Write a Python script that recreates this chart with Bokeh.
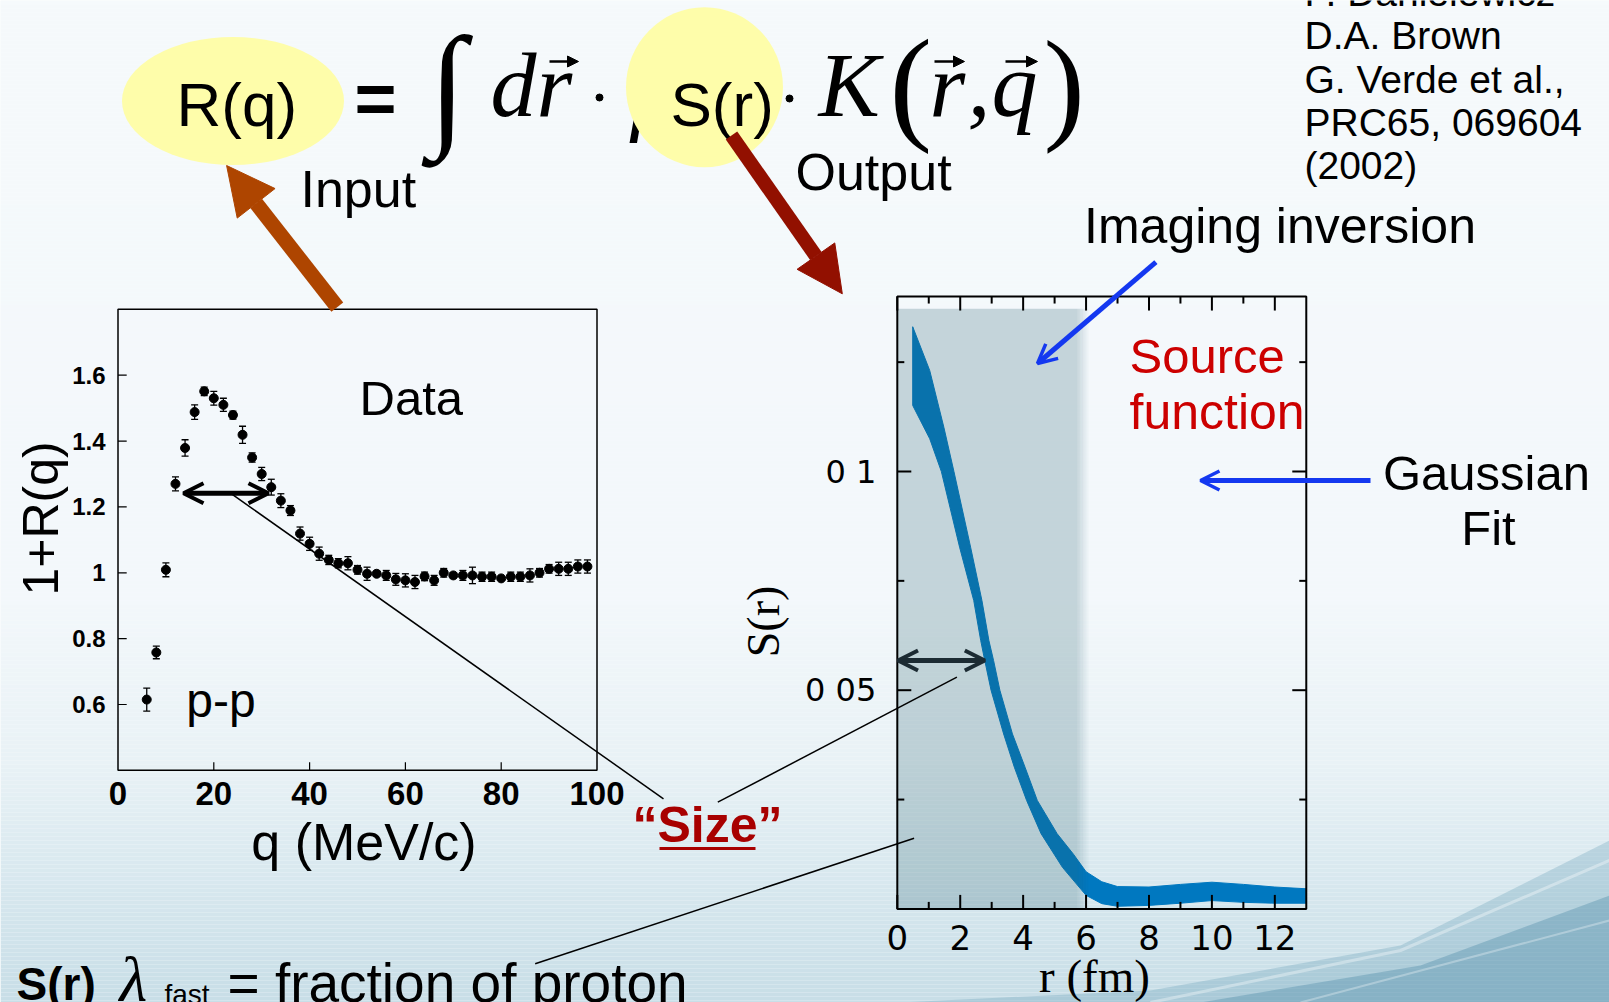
import numpy as np
from bokeh.plotting import figure
from bokeh.models import Range1d, Arrow, NormalHead, OpenHead
from bokeh.core.properties import value
from bokeh.embed import file_html
from bokeh.resources import INLINE

W, H = 1609, 1002
SANS = "Liberation Sans"
SERIF = "Liberation Serif"
WIDE = "DejaVu Sans"

# ---------------- data: left panel (correlation function) ----------------
q_vals = [6, 8, 10, 12, 14, 16, 18, 20, 22, 24, 26, 28, 30, 32, 34, 36, 38, 40,
          42, 44, 46, 48, 50, 52, 54, 56, 58, 60, 62, 64, 66, 68, 70, 72, 74, 76,
          78, 80, 82, 84, 86, 88, 90, 92, 94, 96, 98]
corr_vals = [0.615, 0.758, 1.009, 1.270, 1.379, 1.488, 1.551, 1.530, 1.510, 1.479,
             1.419, 1.350, 1.300, 1.260, 1.219, 1.189, 1.119, 1.088, 1.058, 1.039,
             1.029, 1.029, 1.009, 0.997, 0.997, 0.992, 0.980, 0.977, 0.972, 0.989,
             0.977, 1.000, 0.992, 0.992, 0.992, 0.988, 0.988, 0.983, 0.988, 0.988,
             0.992, 1.000, 1.012, 1.012, 1.012, 1.019, 1.019]
corr_err = [0.035, 0.019, 0.021, 0.021, 0.025, 0.022, 0.013, 0.021, 0.020, 0.012,
            0.026, 0.014, 0.020, 0.024, 0.021, 0.015, 0.020, 0.020, 0.020, 0.014,
            0.014, 0.020, 0.013, 0.020, 0.008, 0.015, 0.018, 0.020, 0.020, 0.013,
            0.015, 0.013, 0.008, 0.015, 0.025, 0.014, 0.014, 0.006, 0.014, 0.014,
            0.020, 0.013, 0.013, 0.020, 0.020, 0.020, 0.020]
q_ticks = [0, 20, 40, 60, 80, 100]
q_tick_labels = ["0", "20", "40", "60", "80", "100"]
corr_ticks = [0.6, 0.8, 1.0, 1.2, 1.4, 1.6]
corr_tick_labels = ["0.6", "0.8", "1", "1.2", "1.4", "1.6"]

# ---------------- data: right panel (source function band) ----------------
r_upper = [0.49, 1.03, 1.48, 1.80, 2.33, 2.69, 2.91, 3.06, 3.26, 3.66, 4.06, 4.45,
           5.08, 5.60, 6.00, 6.50, 7.0, 8.0, 9.0, 10.0, 11.0, 12.0, 13.0]
S_upper = [0.1331, 0.1231, 0.1101, 0.1000, 0.0827, 0.0705, 0.0614, 0.0568, 0.0500,
           0.0400, 0.0324, 0.0248, 0.0172, 0.0125, 0.0085, 0.0062, 0.0051, 0.0050,
           0.0056, 0.0061, 0.0056, 0.0050, 0.0046]
r_lower = [0.49, 1.03, 1.40, 1.98, 2.43, 2.65, 2.78, 2.98, 3.38, 3.72, 4.11, 4.57,
           5.25, 6.0, 6.5, 7.0, 8.0, 9.0, 10.0, 11.0, 12.0, 13.0]
S_lower = [0.1151, 0.1075, 0.1000, 0.0827, 0.0705, 0.0614, 0.0568, 0.0500, 0.0400,
           0.0324, 0.0248, 0.0172, 0.0095, 0.0031, 0.0012, 0.0006, 0.0008, 0.0013,
           0.0019, 0.0015, 0.0013, 0.0013]
r_major = [0, 2, 4, 6, 8, 10, 12]
r_major_labels = ["0", "2", "4", "6", "8", "10", "12"]
r_minor = [1, 3, 5, 7, 9, 11]
S_major = [0.05, 0.1]
S_major_labels = ["0 05", "0 1"]
S_minor = [0.025, 0.075, 0.125]

# ---------------- canvas ----------------
p = figure(width=W, height=H, x_range=Range1d(0, W), y_range=Range1d(H, 0),
           x_axis_type=None, y_axis_type=None, output_backend="svg",
           toolbar_location=None, min_border=0)
p.grid.visible = False
p.outline_line_color = None
p.background_fill_color = "#f6fafc"
p.border_fill_color = "#f6fafc"

# panel scales (pixel placement of each panel inside the slide)
QPX = (117.5, 596.5)          # q = 0 .. 100
QY = (374.7, 704.0)           # 1+R = 1.6 .. 0.6
RPX0, RSC = 896.8, 31.46      # r = 0 at px, px per fm
SPY0, SSC = 908.4, 4374.0     # S = 0 at px, px per unit

qs = (QPX[1] - QPX[0]) / 100.0
Rs = (QY[1] - QY[0]) / 1.0
p.extra_x_ranges = {
    "q": Range1d(-QPX[0] / qs, (W - QPX[0]) / qs),
    "r": Range1d(-RPX0 / RSC, (W - RPX0) / RSC),
}
p.extra_y_ranges = {
    "R": Range1d(1.6 - (H - QY[0]) / Rs, 1.6 + QY[0] / Rs),
    "S": Range1d((SPY0 - H) / SSC, SPY0 / SSC),
}

# ---------------- background gradient ----------------
ys = np.arange(0, H, 4)
yk = [0, 600, 760, 880, 1002]
cr = np.interp(ys, yk, [246, 243, 233, 216, 200])
cg = np.interp(ys, yk, [250, 248, 242, 232, 222])
cb = np.interp(ys, yk, [252, 251, 246, 239, 231])
cols = ["#%02x%02x%02x" % (int(a), int(b), int(c)) for a, b, c in zip(cr, cg, cb)]
p.quad(left=0, right=W, top=ys, bottom=ys + 4, fill_color=cols, line_color=None)
p.patch([900, 1150, 1400, 1609, 1609], [1002, 990, 945, 840, 1002],
        fill_color="#4f8faa", fill_alpha=0.25, line_color=None)
p.patch([1200, 1420, 1609, 1609], [1002, 965, 895, 1002],
        fill_color="#3f819e", fill_alpha=0.32, line_color=None)
p.line([1150, 1400, 1609], [1002, 950, 860], line_color="white", line_alpha=0.35, line_width=3)
p.line([1300, 1609], [1002, 920], line_color="white", line_alpha=0.3, line_width=2)

# ---------------- formula ----------------


def txt(x, y, s, size, font=SANS, style="normal", color="black", align="left",
        angle=0.0, mid=False):
    """y is the text baseline unless mid=True (then y is the vertical centre)."""
    ym = y if mid else y - 0.36 * size
    p.text(x=[x], y=[ym], text=[s], text_font=value(font), text_font_size=f"{size}px",
           text_font_style=style, text_color=color, text_align=align,
           text_baseline="middle", angle=angle)


# glyph hidden behind the S(r) highlight (only a sliver shows)
txt(628, 126, "f", 92, font=SERIF, style="italic")
p.ellipse(x=[232.5], y=[100.5], width=[222], height=[128], fill_color="#fefdaa", line_color=None)
p.ellipse(x=[704], y=[86.7], width=[157], height=[160], fill_color="#fefdaa", line_color=None)

txt(176, 126, "R(q)", 62)
txt(375, 97, "=", 72, style="bold", align="center", mid=True)
txt(447, 133, "\u222b", 136, font=SERIF, style="italic", align="center")
txt(490, 118, "dr", 92, font=SERIF, style="italic")
txt(670, 126, "S(r)", 62)
txt(818, 118, "K", 92, font=SERIF, style="italic")
txt(889, 130, "(", 128, font=SERIF)
txt(929, 118, "r", 92, font=SERIF, style="italic")
txt(967, 118, ",", 92, font=SERIF, style="italic")
txt(991, 118, "q", 92, font=SERIF, style="italic")
txt(1043, 130, ")", 124, font=SERIF)
p.scatter(x=[599, 789], y=[97, 98], size=7, color="black")
for xa, xb in [(549, 578), (934, 964), (1005, 1037)]:
    p.add_layout(Arrow(end=NormalHead(size=11, fill_color="black", line_color="black"),
                       x_start=xa, y_start=61, x_end=xb, y_end=61,
                       line_width=2.5, line_color="black"))

txt(300, 207, "Input", 52)
txt(795, 190, "Output", 52)

# big arrows
p.add_layout(Arrow(end=NormalHead(size=48, fill_color="#ae4500", line_color="#ae4500"),
                   x_start=336.8, y_start=306.7, x_end=226.1, y_end=165,
                   line_width=15, line_color="#ae4500"))
p.add_layout(Arrow(end=NormalHead(size=46, fill_color="#921000", line_color="#921000"),
                   x_start=731, y_start=135, x_end=841.8, y_end=293.3,
                   line_width=14, line_color="#921000"))

# ---------------- left panel ----------------
LQ = dict(x_range_name="q", y_range_name="R")
p.quad(left=[0], right=[100], bottom=[0.4], top=[1.8], fill_color=None,
       line_color="black", line_width=1.5, **LQ)
ytl = 8.7 / qs
p.segment(x0=[0] * len(corr_ticks), x1=[ytl] * len(corr_ticks), y0=corr_ticks, y1=corr_ticks,
          line_color="black", line_width=1.2, **LQ)
inner_q = q_ticks[1:-1]
p.segment(x0=inner_q, x1=inner_q, y0=[0.4] * len(inner_q), y1=[0.4 + 8 / Rs] * len(inner_q),
          line_color="black", line_width=1.2, **LQ)
lo = [v - e for v, e in zip(corr_vals, corr_err)]
hi = [v + e for v, e in zip(corr_vals, corr_err)]
cap = 3.5 / qs
p.segment(x0=q_vals, x1=q_vals, y0=lo, y1=hi, line_color="black", line_width=1.3, **LQ)
p.segment(x0=[q - cap for q in q_vals], x1=[q + cap for q in q_vals], y0=hi, y1=hi,
          line_color="black", line_width=1.3, **LQ)
p.segment(x0=[q - cap for q in q_vals], x1=[q + cap for q in q_vals], y0=lo, y1=lo,
          line_color="black", line_width=1.3, **LQ)
p.scatter(x=q_vals, y=corr_vals, size=9, color="black", **LQ)

p.text(x=[-12.5 / qs] * len(corr_ticks), y=corr_ticks, text=corr_tick_labels,
       text_font=value(SANS), text_font_size="24px", text_font_style="bold",
       text_align="right", text_baseline="middle", **LQ)
p.text(x=q_ticks, y=[0.4 - 23 / Rs] * len(q_ticks), text=q_tick_labels,
       text_font=value(SANS), text_font_size="33px", text_font_style="bold",
       text_align="center", text_baseline="middle", **LQ)

txt(410.8, 415, "Data", 49, align="center")
txt(220.5, 717, "p-p", 48, align="center")
txt(40, 518, "1+R(q)", 50, align="center", angle=np.pi / 2, mid=True)
txt(363.5, 860, "q (MeV/c)", 52, align="center")

# ---------------- right panel ----------------
RS = dict(x_range_name="r", y_range_name="S")
p.patch(x=r_upper + r_lower[::-1], y=S_upper + S_lower[::-1], fill_color="#0078c0",
        line_color="#0078c0", line_width=1, **RS)
# shaded "imaging" region over the band, with a soft right edge
p.quad(left=[0], right=[5.72], bottom=[0], top=[0.1372], fill_color="#285f6e",
       fill_alpha=0.23, line_color=None, **RS)
for k in range(8):
    p.quad(left=[5.72 + k * 0.045], right=[5.72 + (k + 1) * 0.045], bottom=[0], top=[0.1372],
           fill_color="#285f6e", fill_alpha=0.23 * (1 - (k + 1) / 9), line_color=None, **RS)

p.quad(left=[0], right=[13], bottom=[0], top=[0.14], fill_color=None,
       line_color="black", line_width=2, **RS)
mj, mn = 14.0, 7.0
for ticks, L in [(r_major, mj), (r_minor, mn)]:
    n = len(ticks)
    p.segment(x0=ticks, x1=ticks, y0=[0] * n, y1=[L / SSC] * n, line_color="black", line_width=2, **RS)
    p.segment(x0=ticks, x1=ticks, y0=[0.14] * n, y1=[0.14 - L / SSC] * n, line_color="black", line_width=2, **RS)
for ticks, L in [(S_major, mj), (S_minor, mn)]:
    n = len(ticks)
    p.segment(x0=[0] * n, x1=[L / RSC] * n, y0=ticks, y1=ticks, line_color="black", line_width=2, **RS)
    p.segment(x0=[13] * n, x1=[13 - L / RSC] * n, y0=ticks, y1=ticks, line_color="black", line_width=2, **RS)

p.text(x=r_major, y=[-(937 - SPY0) / SSC] * len(r_major), text=r_major_labels,
       text_font=value(WIDE), text_font_size="34px", text_align="center",
       text_baseline="middle", **RS)
p.text(x=[-21 / RSC] * len(S_major), y=S_major, text=S_major_labels,
       text_font=value(WIDE), text_font_size="32px", text_align="right",
       text_baseline="middle", **RS)

txt(763, 621, "S(r)", 46, font=SERIF, align="center", angle=np.pi / 2, mid=True)
txt(1094, 992, "r (fm)", 47, font=SERIF, align="center")

# double-lined arrows
BG = "#f3f8fb"


def dbl_arrow(x0, y0, x1, y1, color, size, lw, shaft, inner, both=False):
    p.add_layout(Arrow(end=OpenHead(size=size, line_color=color, line_width=lw),
                       start=OpenHead(size=size, line_color=color, line_width=lw) if both else None,
                       x_start=x0, y_start=y0, x_end=x1, y_end=y1,
                       line_color=color, line_width=shaft))
    d = np.hypot(x1 - x0, y1 - y0)
    ux, uy = (x1 - x0) / d, (y1 - y0) / d
    s0 = 7 if both else 0
    p.line([x0 + ux * s0, x1 - ux * 7], [y0 + uy * s0, y1 - uy * 7],
           line_color=BG, line_width=inner)


dbl_arrow(183, 492.7, 268, 492.7, "black", 20, 4, 5, 1.8, both=True)
dbl_arrow(897.5, 660, 984.3, 660, "#1c2b33", 20, 4, 5, 1.8, both=True)
dbl_arrow(1155.4, 261.7, 1037, 363, "#1438f0", 19, 3.5, 5, 1.8)
dbl_arrow(1370, 480, 1200, 480, "#1438f0", 19, 3.5, 5, 1.8)

# connector lines to "Size"
p.line([230, 663], [492.7, 798.3], line_color="black", line_width=1.5)
p.line([717.3, 956.4], [801.7, 676.7], line_color="black", line_width=1.5)
p.line([534.7, 913.6], [963.3, 837.7], line_color="black", line_width=1.5)

txt(707, 842, "\u201cSize\u201d", 50, style="bold", color="#a80000", align="center")
p.segment(x0=[659], x1=[755], y0=[848], y1=[848], line_color="#a80000", line_width=3)

# annotations text
txt(1279.5, 243.3, "Imaging inversion", 50, align="center")
txt(1129, 373.3, "Source", 49, color="#cc0000")
txt(1129, 429.3, "function", 50, color="#cc0000")
txt(1486, 490, "Gaussian", 49, align="center")
txt(1488, 545, "Fit", 49, align="center")

cite = ["P. Danielewicz", "D.A. Brown", "G. Verde et al.,", "PRC65, 069604", "(2002)"]
for i, s in enumerate(cite):
    txt(1304, 6 + 43.3 * i, s, 39)

# bottom line
txt(16, 1000, "S(r)", 46, style="bold")
txt(119, 1002, "\u03bb", 64, font=SERIF, style="italic")
txt(164, 1004, "fast", 28)
txt(227, 1002, "= fraction of  proton", 55)

open("out.html", "w").write(file_html(p, INLINE))
